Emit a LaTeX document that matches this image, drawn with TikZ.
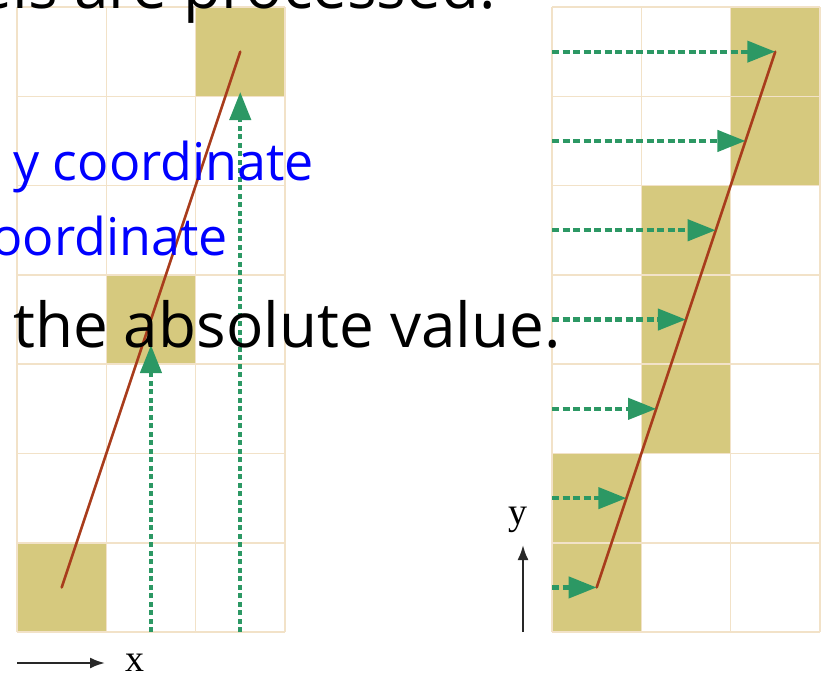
\documentclass[tikz,border=0pt]{standalone}
\usepackage{fontspec}
\setmainfont{Liberation Serif}
\newfontfamily\notefont{Open Sans}
\usetikzlibrary{arrows.meta}
\definecolor{tanfill}{RGB}{214,201,126}
\definecolor{gridbeige}{RGB}{242,226,200}
\definecolor{raybrown}{RGB}{168,60,28}
\definecolor{scangreen}{RGB}{44,152,100}
\definecolor{axisgray}{RGB}{40,40,40}
\begin{document}
\begin{tikzpicture}[x=1pt,y=-1pt,
  gridline/.style={gridbeige,line width=1.6pt},
  rayline/.style={raybrown,line width=2.6pt,line cap=round},
  scanarrow/.style={scangreen,line width=4.2pt,dash pattern=on 7pt off 3.5pt,
    -{Triangle[length=28pt,width=21pt]}},
  axisarrow/.style={axisgray,line width=2.2pt,-{Latex[length=15pt,width=11pt]}},
  axislabel/.style={inner sep=0pt,font=\fontsize{38}{40}\selectfont},
  bigtext/.style={inner sep=0pt,font=\notefont\fontsize{62}{70}\selectfont},
  bluetext/.style={inner sep=0pt,text=blue,font=\notefont\fontsize{52}{60}\selectfont}]
  \path[use as bounding box] (0,0) rectangle (825,675);
  \clip (0,0) rectangle (825,675);
  % column walk: one step in x
  \begin{scope}[xshift=17pt,yshift=-7pt,x=89.3pt,y=-89.3pt]
    \foreach \cx/\cy in {0/6,1/3,2/0}
      \fill[tanfill] (\cx,\cy) rectangle ++(1,1);
    \foreach \cx in {0,...,3}
      \draw[gridline] (\cx,0) -- (\cx,7);
    \foreach \cy in {0,...,7}
      \draw[gridline] (0,\cy) -- (3,\cy);
    \coordinate (lstart) at (0.5,6.5);
    \coordinate (lend) at (2.5,0.5);
    \draw[rayline] (lstart) -- (lend);
    \coordinate (lfoot1) at (1.5,7);
    \coordinate (lhit1) at (1.5,3.785);
    \coordinate (lfoot2) at (2.5,7);
    \coordinate (lhit2) at (2.5,0.952);
    \draw[scanarrow,dash pattern=on 5pt off 3.5pt] (lfoot1) -- (lhit1);
    \draw[scanarrow,dash pattern=on 5pt off 3.5pt] (lfoot2) -- (lhit2);
  \end{scope}
  % row walk: one step in y
  \begin{scope}[xshift=552pt,yshift=-7pt,x=89.3pt,y=-89.3pt]
    \foreach \cx/\cy in {2/0,2/1,1/2,1/3,1/4,0/5,0/6}
      \fill[tanfill] (\cx,\cy) rectangle ++(1,1);
    \foreach \cx in {0,...,3}
      \draw[gridline] (\cx,0) -- (\cx,7);
    \foreach \cy in {0,...,7}
      \draw[gridline] (0,\cy) -- (3,\cy);
    \coordinate (rstart) at (0.5,6.5);
    \coordinate (rend) at (2.5,0.5);
    \draw[rayline] (rstart) -- (rend);
    \foreach \row [evaluate=\row as \hitx using 0.5+(6-\row)/3] in {0,...,6}{
      \coordinate (rfoot\row) at (0,\row+0.5);
      \coordinate (rhit\row) at (\hitx,\row+0.5);
      \draw[scanarrow] (rfoot\row) -- (rhit\row);
    }
  \end{scope}
  % axes
  \coordinate (xtail) at (17,663);
  \coordinate (xhead) at (105,663);
  \draw[axisarrow] (xtail) -- (xhead);
  \node[axislabel] (xlabel) at (135,663) {x};
  \coordinate (ytail) at (523,632);
  \coordinate (yhead) at (523,545);
  \draw[axisarrow] (ytail) -- (yhead);
  \node[axislabel] (ylabel) at (518,520) {y};
  % text lying over the figure
  \node[bigtext,anchor=base east] (toptext) at (496,8) {els are processed.};
  \node[bluetext,anchor=base west] (ytext) at (13,180) {y coordinate};
  \node[bluetext,anchor=base east] (xtext) at (228,255) {oordinate};
  \node[bigtext,anchor=base west] (abstext) at (13,347) {the absolute value.};
\end{tikzpicture}
\end{document}
